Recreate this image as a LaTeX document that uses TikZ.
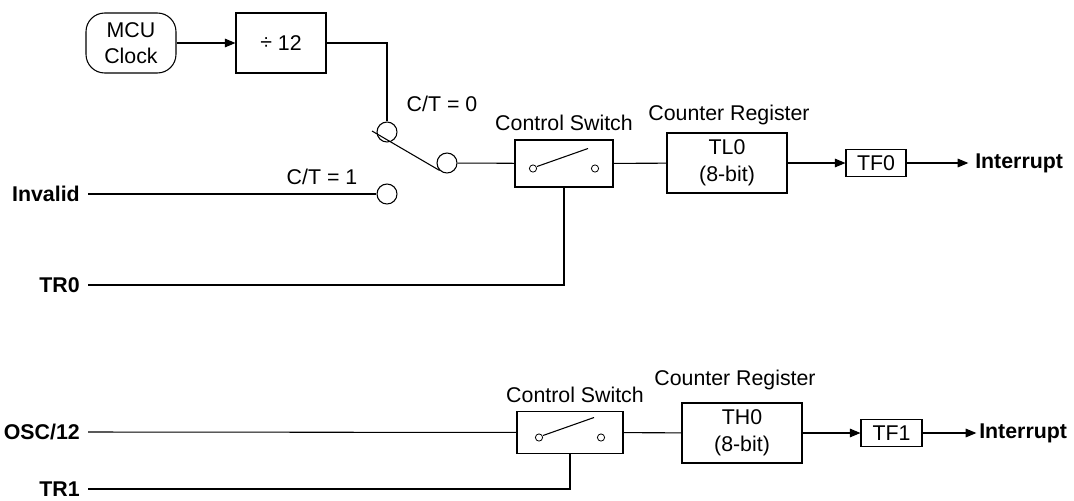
\documentclass[tikz,border=0pt]{standalone}
\usepackage{fontspec}
\setmainfont{Liberation Sans}
\usetikzlibrary{arrows.meta,calc}
\begin{document}
\begin{tikzpicture}[x=0.75pt,y=-0.75pt,
  every node/.style={font=\fontsize{16}{20}\selectfont, inner sep=0pt},
  wire/.style={line width=0.8pt},
  arr/.style={wire,-{Triangle[length=8pt,width=6.5pt]}},
  blk/.style={draw,line width=0.8pt,align=center},
  port/.style={draw,circle,line width=0.8pt,minimum size=15pt,inner sep=0pt},
  sig/.style={font=\fontsize{16}{19}\selectfont\bfseries,anchor=east},
  swbox/.style={draw,line width=0.8pt,
    path picture={
      \draw[line width=0.6pt] ([shift={(-31,5)}]path picture bounding box.center) circle[radius=2.7pt];
      \draw[line width=0.6pt] ([shift={(31,5)}]path picture bounding box.center) circle[radius=2.7pt];
      \draw[line width=0.8pt] ([shift={(-27,3)}]path picture bounding box.center) -- ([shift={(24,-15)}]path picture bounding box.center);
    }}]
\useasboundingbox (0,0) rectangle (1074,500);

% ---------- Timer 0 ----------
\node[blk,rounded corners=14pt,minimum width=67.5pt,minimum height=45pt] (mcu) at (131,43) {MCU\\Clock};
\node[blk,minimum width=67.5pt,minimum height=45pt] (div) at (281,43) {\raisebox{0.5pt}{÷} 12};
\node[port] (c0) at (387,132) {};
\node[port] (c1) at (387,194) {};
\node[port] (cm) at (447,163) {};
\coordinate (lv) at (372,131);
\node (lct0) at (442,104) {C/T = 0};
\node (lct1) at (322,177) {C/T = 1};
\node[swbox,minimum width=73.5pt,minimum height=35.25pt] (sw1) at (564,163.5) {};
\node (lsw1) at (564,123) {Control Switch};
\node[blk,minimum width=90pt,minimum height=45pt] (tl0) at (727,163) {TL0\\(8-bit)};
\node (lcr1) at (729,115) {Counter Register};
\node[blk,minimum width=45pt,minimum height=20pt] (tf0) at (876,163) {TF0};
\node[sig,anchor=west] (int0) at (975,163) {Interrupt};
\node[sig] (inv) at (80,194) {Invalid};
\node[sig] (tr0) at (80,285) {TR0};

\draw[arr] (mcu) -- (div);
\draw[wire] (div.east) -| (c0.north);
\draw[wire] (lv) -- (cm.225);
\draw[wire] (inv.east) ++(8,0) -- (c1.west);
\draw[wire] (cm) -- (sw1);
\draw[wire] (sw1) -- (tl0);
\draw[arr] (tl0) -- (tf0);
\draw[arr] (tf0.east) -- ([xshift=-5pt]int0.west);
\draw[wire] ([xshift=6pt]tr0.east) -| (sw1.south);

% ---------- Timer 1 ----------
\node[swbox,minimum width=79.5pt,minimum height=31pt] (sw2) at (570,432.5) {};
\node (lsw2) at (575,395) {Control Switch};
\node[blk,minimum width=90pt,minimum height=45pt] (th0) at (742,433) {TH0\\(8-bit)};
\node (lcr2) at (735,380) {Counter Register};
\node[blk,minimum width=45.75pt,minimum height=20pt] (tf1) at (891.5,433) {TF1};
\node[sig,anchor=west] (int1) at (979,433) {Interrupt};
\node[sig] (osc) at (80,432) {OSC/12};
\node[sig] (tr1) at (80,489) {TR1};

\draw[wire] ([xshift=6pt]osc.east) -- (sw2);
\draw[wire] (sw2) -- (th0);
\draw[arr] (th0) -- (tf1);
\draw[arr] (tf1.east) -- ([xshift=-2pt]int1.west);
\draw[wire] ([xshift=6pt]tr1.east) -| (sw2.south);
\end{tikzpicture}
\end{document}
